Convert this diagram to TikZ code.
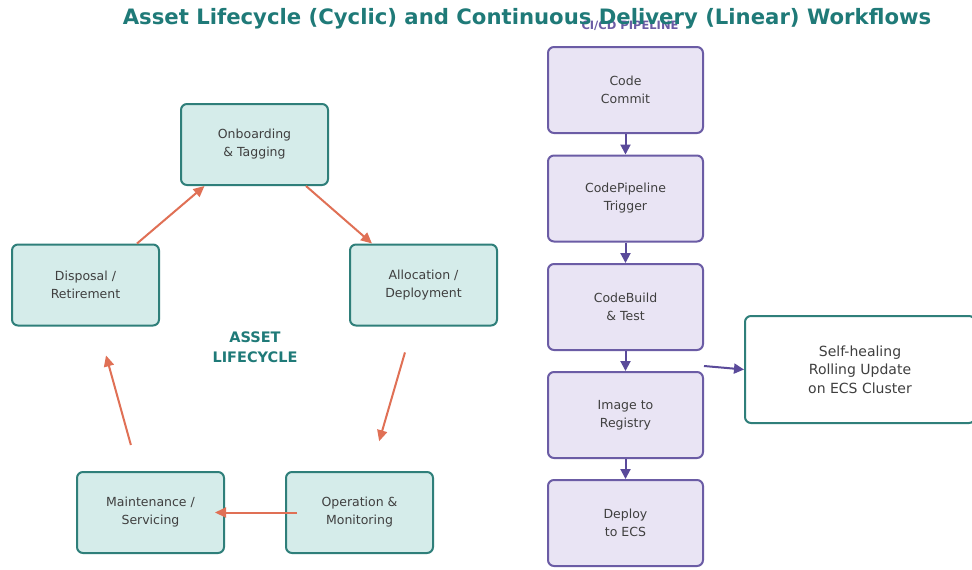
\documentclass[tikz,border=0pt]{standalone}
\usepackage{fontspec}
\setmainfont{DejaVu Sans}
\usetikzlibrary{arrows.meta}
\definecolor{teal1}{HTML}{1F7A78}
\definecolor{tealfill}{HTML}{D5ECEA}
\definecolor{tealline}{HTML}{2F7F7A}
\definecolor{orangearr}{HTML}{E07055}
\definecolor{purpline}{HTML}{6B5CA5}
\definecolor{purpfill}{HTML}{E9E4F4}
\definecolor{purparr}{HTML}{5A4A9A}
\definecolor{txt}{HTML}{3F3F3F}
\tikzset{
  x=1pt, y=-1pt,
  lifebox/.style={draw=tealline, fill=tealfill, line width=2pt, rounded corners=6pt,
    minimum width=147pt, minimum height=81pt, align=center, text=txt,
    font=\fontsize{12.5}{18}\selectfont, inner sep=0pt},
  cibox/.style={draw=purpline, fill=purpfill, line width=2pt, rounded corners=6pt,
    minimum width=155pt, minimum height=86pt, align=center, text=txt,
    font=\fontsize{12.5}{18}\selectfont, inner sep=0pt},
  healbox/.style={draw=tealline, fill=white, line width=2pt, rounded corners=6pt,
    minimum width=230pt, minimum height=107pt, align=center, text=txt,
    font=\fontsize{14}{18.5}\selectfont, inner sep=0pt},
  lifearrow/.style={draw=orangearr, line width=2pt, -{Triangle[length=11pt,width=10pt]}},
  ciarrow/.style={draw=purparr, line width=2pt, -{Triangle[length=10pt,width=10pt]}},
}
\begin{document}
\begin{tikzpicture}
\useasboundingbox (0,0) rectangle (972,570);
\fill[white] (0,0) rectangle (972,570);
% CI/CD label (behind title)
\node[text=purpline, font=\bfseries\fontsize{11.5}{14}\selectfont] (cilabel) at (630,26) {CI/CD PIPELINE};
% title
\node[text=teal1, font=\bfseries\fontsize{21.2}{24}\selectfont] (title) at (527,19) {Asset Lifecycle (Cyclic) and Continuous Delivery (Linear) Workflows};
% lifecycle
\node[lifebox] (onb) at (254.5,144.5) {Onboarding\\\& Tagging};
\node[lifebox] (disp) at (85.5,285) {Disposal /\\Retirement};
\node[lifebox] (alloc) at (423.5,285) {Allocation /\\Deployment};
\node[lifebox] (maint) at (150.5,512.5) {Maintenance /\\Servicing};
\node[lifebox] (oper) at (359.5,512.5) {Operation \&\\Monitoring};
\node[text=teal1, align=center, font=\bfseries\fontsize{14.5}{20}\selectfont] (lclabel) at (255,347) {ASSET\\LIFECYCLE};
\draw[lifearrow] ([xshift=51.5pt]disp.north) -- ([xshift=-50pt]onb.south);
\draw[lifearrow] ([xshift=51.5pt]onb.south) -- ([xshift=-51.5pt]alloc.north);
\draw[lifearrow, shorten <=27pt, shorten >=31pt] ([xshift=-11pt]alloc.south) -- ([xshift=11pt]oper.north);
\draw[lifearrow, shorten <=-12pt, shorten >=-10pt] (oper.west) -- (maint.east);
\draw[lifearrow, shorten <=27pt, shorten >=30pt] ([xshift=-12.4pt]maint.north) -- ([xshift=12.5pt]disp.south);
% CI/CD
\node[cibox] (commit) at (625.5,90) {Code\\Commit};
\node[cibox] (pipe) at (625.5,198.5) {CodePipeline\\Trigger};
\node[cibox] (build) at (625.5,307) {CodeBuild\\\& Test};
\node[cibox] (image) at (625.5,415) {Image to\\Registry};
\node[cibox] (deploy) at (625.5,523) {Deploy\\to ECS};
\draw[ciarrow] (commit.south) -- (pipe.north);
\draw[ciarrow] (pipe.south) -- (build.north);
\draw[ciarrow] (build.south) -- (image.north);
\draw[ciarrow] (image.south) -- (deploy.north);
\node[healbox] (heal) at (860,369.5) {Self-healing\\Rolling Update\\on ECS Cluster};
\coordinate (src) at (704,366);
\draw[ciarrow] (src) -- (heal.west);
\end{tikzpicture}
\end{document}
